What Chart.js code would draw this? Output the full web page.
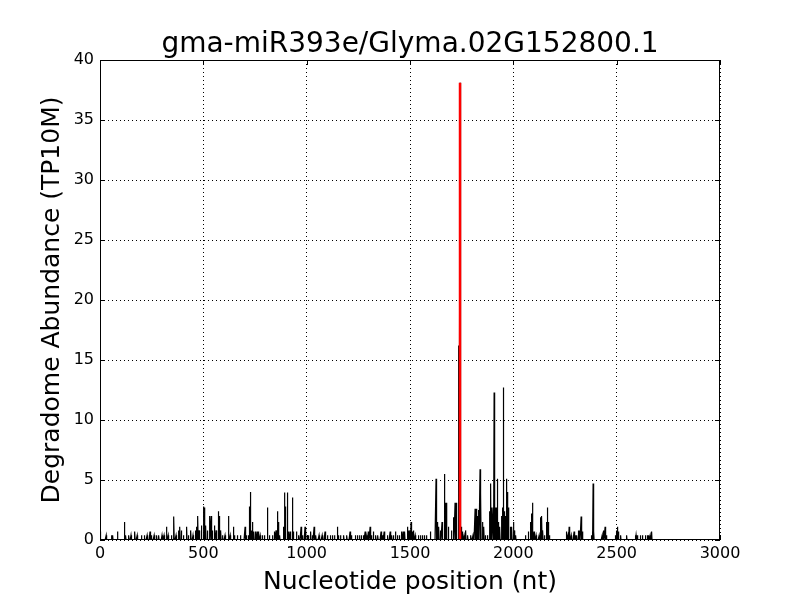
<!DOCTYPE html>
<html>
<head>
<meta charset="utf-8">
<script src="https://cdn.jsdelivr.net/npm/chart.js@4.4.1/dist/chart.umd.min.js"></script>
<style>
  html, body { margin: 0; padding: 0; background: #fff; }
  #wrap { width: 800px; height: 600px; }
</style>
</head>
<body>
<div id="wrap"><canvas id="c" width="800" height="600"></canvas></div>
<script>
// ---- Data ----
const chartTitle = "gma-miR393e/Glyma.02G152800.1";
const xLabel = "Nucleotide position (nt)";
const yLabel = "Degradome Abundance (TP10M)";
const transcriptLength = 2680;
const xTicks = [0, 500, 1000, 1500, 2000, 2500, 3000];
const yTicks = [0, 5, 10, 15, 20, 25, 30, 35, 40];

// nucleotide positions with non-zero degradome abundance
const positions = [
  0, 3, 30, 55, 62, 85, 118, 125, 140, 150, 169, 180, 200, 215, 228, 242, 250, 262, 275, 285,
  300, 310, 323, 330, 345, 358, 368, 380, 387, 395, 405, 420, 428, 440, 450, 462, 468, 474, 480, 490,
  500, 505, 512, 520, 532, 538, 545, 555, 562, 573, 578, 585, 592, 605, 621, 630, 645, 650, 665, 680,
  702, 710, 720, 724, 729, 733, 737, 745, 752, 760, 768, 775, 785, 795, 810, 820, 835, 845, 852, 858,
  862, 870, 887, 894, 898, 907, 912, 920, 931, 937, 950, 962, 973, 980, 992, 996, 1010, 1020, 1030, 1036,
  1045, 1060, 1075, 1089, 1100, 1115, 1125, 1135, 1149, 1155, 1165, 1180, 1195, 1210, 1218, 1235, 1245, 1255, 1265, 1275,
  1283, 1292, 1300, 1307, 1315, 1322, 1335, 1345, 1360, 1368, 1375, 1390, 1404, 1412, 1420, 1431, 1440, 1450, 1460, 1467,
  1475, 1487, 1493, 1500, 1505, 1510, 1518, 1525, 1540, 1550, 1560, 1570, 1580, 1600, 1626, 1632, 1640, 1648, 1655, 1667,
  1672, 1678, 1685, 1700, 1710, 1718, 1723, 1734, 1742, 1750, 1755, 1762, 1770, 1780, 1795, 1805, 1815, 1820, 1825, 1832,
  1839, 1843, 1850, 1858, 1865, 1875, 1885, 1891, 1896, 1902, 1907, 1912, 1918, 1923, 1928, 1935, 1942, 1948, 1952, 1957,
  1962, 1967, 1972, 1978, 1985, 1993, 2000, 2004, 2012, 2060, 2073, 2082, 2088, 2094, 2100, 2110, 2125, 2132, 2138, 2143,
  2150, 2160, 2165, 2170, 2175, 2259, 2265, 2270, 2280, 2294, 2300, 2308, 2315, 2322, 2328, 2335, 2378, 2383, 2386, 2390,
  2430, 2437, 2444, 2450, 2495, 2500, 2504, 2510, 2520, 2549, 2590, 2594, 2600, 2614, 2625, 2640, 2648, 2655, 2662, 2670
];
const abundances = [
  0.7, 0.4, 0.4, 0.4, 0.4, 0.7, 1.5, 0.4, 0.4, 0.4, 0.7, 0.4, 0.4, 0.4, 0.4, 0.7, 0.4, 0.4, 0.4, 0.4,
  0.4, 0.4, 1.1, 0.4, 0.4, 1.95, 0.4, 0.8, 1.1, 0.8, 0.4, 1.1, 0.4, 0.8, 0.4, 0.8, 1.1, 2.0, 0.8, 1.2,
  2.8, 2.7, 1.2, 0.8, 2.0, 2.0, 0.8, 1.2, 0.8, 2.4, 2.0, 0.8, 0.4, 0.4, 2.0, 0.4, 1.1, 0.4, 0.4, 0.4,
  1.1, 0.4, 0.4, 2.8, 4.0, 0.8, 1.5, 0.7, 0.7, 0.7, 0.7, 0.4, 0.4, 0.4, 2.7, 0.4, 0.4, 0.7, 0.8, 2.4,
  1.5, 0.4, 1.1, 3.95, 2.8, 3.95, 0.7, 0.7, 3.55, 0.7, 0.7, 0.4, 1.1, 0.4, 1.1, 1.0, 0.4, 0.7, 0.4, 1.1,
  0.4, 0.4, 0.4, 0.7, 0.4, 0.4, 0.4, 0.4, 1.1, 0.4, 0.4, 0.4, 0.4, 0.7, 0.4, 0.4, 0.4, 0.4, 0.4, 0.4,
  0.7, 0.4, 0.7, 1.1, 0.4, 0.7, 0.4, 0.4, 0.7, 0.4, 0.7, 0.4, 0.7, 0.4, 0.4, 0.7, 0.4, 0.4, 0.7, 0.7,
  0.7, 1.1, 0.8, 0.8, 1.5, 0.7, 0.8, 0.4, 0.4, 0.4, 0.4, 0.4, 0.4, 0.7, 5.1, 1.5, 1.1, 0.8, 1.5, 5.5,
  3.1, 3.1, 1.1, 0.8, 1.9, 3.1, 3.1, 16.2, 38.1, 1.1, 0.7, 0.4, 0.8, 0.4, 0.4, 0.4, 2.6, 2.6, 2.0, 2.5,
  5.9, 3.9, 1.5, 1.1, 0.4, 0.4, 2.4, 4.7, 2.7, 2.7, 12.3, 2.7, 2.7, 5.1, 1.5, 1.1, 2.0, 2.7, 12.7, 2.4,
  2.0, 5.1, 4.0, 2.7, 1.1, 1.1, 1.5, 0.8, 0.4, 0.4, 0.7, 1.5, 2.2, 3.1, 0.7, 0.4, 0.4, 1.9, 2.0, 0.8,
  0.4, 1.5, 2.7, 1.5, 0.4, 0.7, 0.4, 1.1, 0.4, 0.7, 0.4, 0.4, 0.8, 0.8, 1.95, 0.7, 0.4, 0.7, 4.7, 0.7,
  0.4, 0.8, 1.1, 0.4, 0.4, 0.8, 1.1, 0.7, 0.4, 0.4, 0.4, 0.4, 0.4, 0.4, 0.4, 0.4, 0.4, 0.4, 0.4, 0.7
];
// predicted cleavage site (highlighted in red)
const cleavagePosition = [1742];
const cleavageAbundance = [38.1];

// ---- Build the per-nucleotide series ----
const lookup = new Map();
positions.forEach((p, i) => lookup.set(p, abundances[i]));
const series = [];
for (let p = 0; p <= transcriptLength; p++) {
  series.push({ x: p, y: lookup.has(p) ? lookup.get(p) : 0 });
}
const cleavageSeries = [];
cleavagePosition.forEach((p, i) => {
  cleavageSeries.push({ x: p, y: 0 });
  cleavageSeries.push({ x: p, y: cleavageAbundance[i] });
});

const FONT = "'DejaVu Sans', sans-serif";

const decorPlugin = {
  id: 'decor',
  afterDraw(chart) {
    const { ctx, chartArea: a, scales } = chart;
    ctx.save();
    // frame
    ctx.strokeStyle = '#000';
    ctx.lineWidth = 1;
    ctx.strokeRect(Math.round(a.left) + 0.5, Math.round(a.top) + 0.5,
                   Math.round(a.right - a.left) - 1, Math.round(a.bottom - a.top) - 1);
    // inward ticks on all sides
    const tl = 5;
    ctx.beginPath();
    xTicks.forEach(v => {
      const x = Math.round(scales.x.getPixelForValue(v)) + 0.5;
      ctx.moveTo(x, a.bottom); ctx.lineTo(x, a.bottom - tl);
      ctx.moveTo(x, a.top); ctx.lineTo(x, a.top + tl);
    });
    yTicks.forEach(v => {
      const y = Math.round(scales.y.getPixelForValue(v)) + 0.5;
      ctx.moveTo(a.left, y); ctx.lineTo(a.left + tl, y);
      ctx.moveTo(a.right, y); ctx.lineTo(a.right - tl, y);
    });
    ctx.stroke();
    // texts
    ctx.fillStyle = '#000';
    ctx.textAlign = 'center';
    ctx.textBaseline = 'middle';
    ctx.font = '28px ' + FONT;
    ctx.fillText(chartTitle, (a.left + a.right) / 2, 45);
    ctx.font = '25px ' + FONT;
    ctx.fillText(xLabel, (a.left + a.right) / 2, 582);
    ctx.translate(52, (a.top + a.bottom) / 2);
    ctx.rotate(-Math.PI / 2);
    ctx.fillText(yLabel, 0, 0);
    ctx.restore();
  }
};

new Chart(document.getElementById('c'), {
  type: 'line',
  data: {
    datasets: [
      {
        data: cleavageSeries,
        borderColor: '#ff0000',
        borderWidth: 2.5,
        pointRadius: 0,
        tension: 0,
        order: 0
      },
      {
        data: series,
        borderColor: '#000000',
        borderWidth: 1.2,
        pointRadius: 0,
        tension: 0,
        order: 1
      }
    ]
  },
  options: {
    responsive: false,
    animation: false,
    events: [],
    parsing: true,
    layout: { padding: { left: 0, top: 60, right: 80, bottom: 0 } },
    plugins: { legend: { display: false }, title: { display: false }, tooltip: { enabled: false } },
    scales: {
      x: {
        type: 'linear',
        min: 0, max: 3000,
        afterFit(s) { s.height = 60; },
        afterBuildTicks(s) { s.ticks = xTicks.map(v => ({ value: v })); },
        ticks: { color: '#000', font: { family: FONT, size: 16 }, padding: 4, maxRotation: 0, autoSkip: false,
                 callback: v => String(v) },
        grid: { color: '#000', lineWidth: 1, drawTicks: false },
        border: { display: false, dash: [1, 3] }
      },
      y: {
        type: 'linear',
        min: 0, max: 40,
        afterFit(s) { s.width = 100; },
        afterBuildTicks(s) { s.ticks = yTicks.map(v => ({ value: v })); },
        ticks: { color: '#000', font: { family: FONT, size: 16 }, padding: 6, callback: v => String(v) },
        grid: { color: '#000', lineWidth: 1, drawTicks: false },
        border: { display: false, dash: [1, 3] }
      }
    }
  },
  plugins: [decorPlugin]
});
</script>
</body>
</html>
